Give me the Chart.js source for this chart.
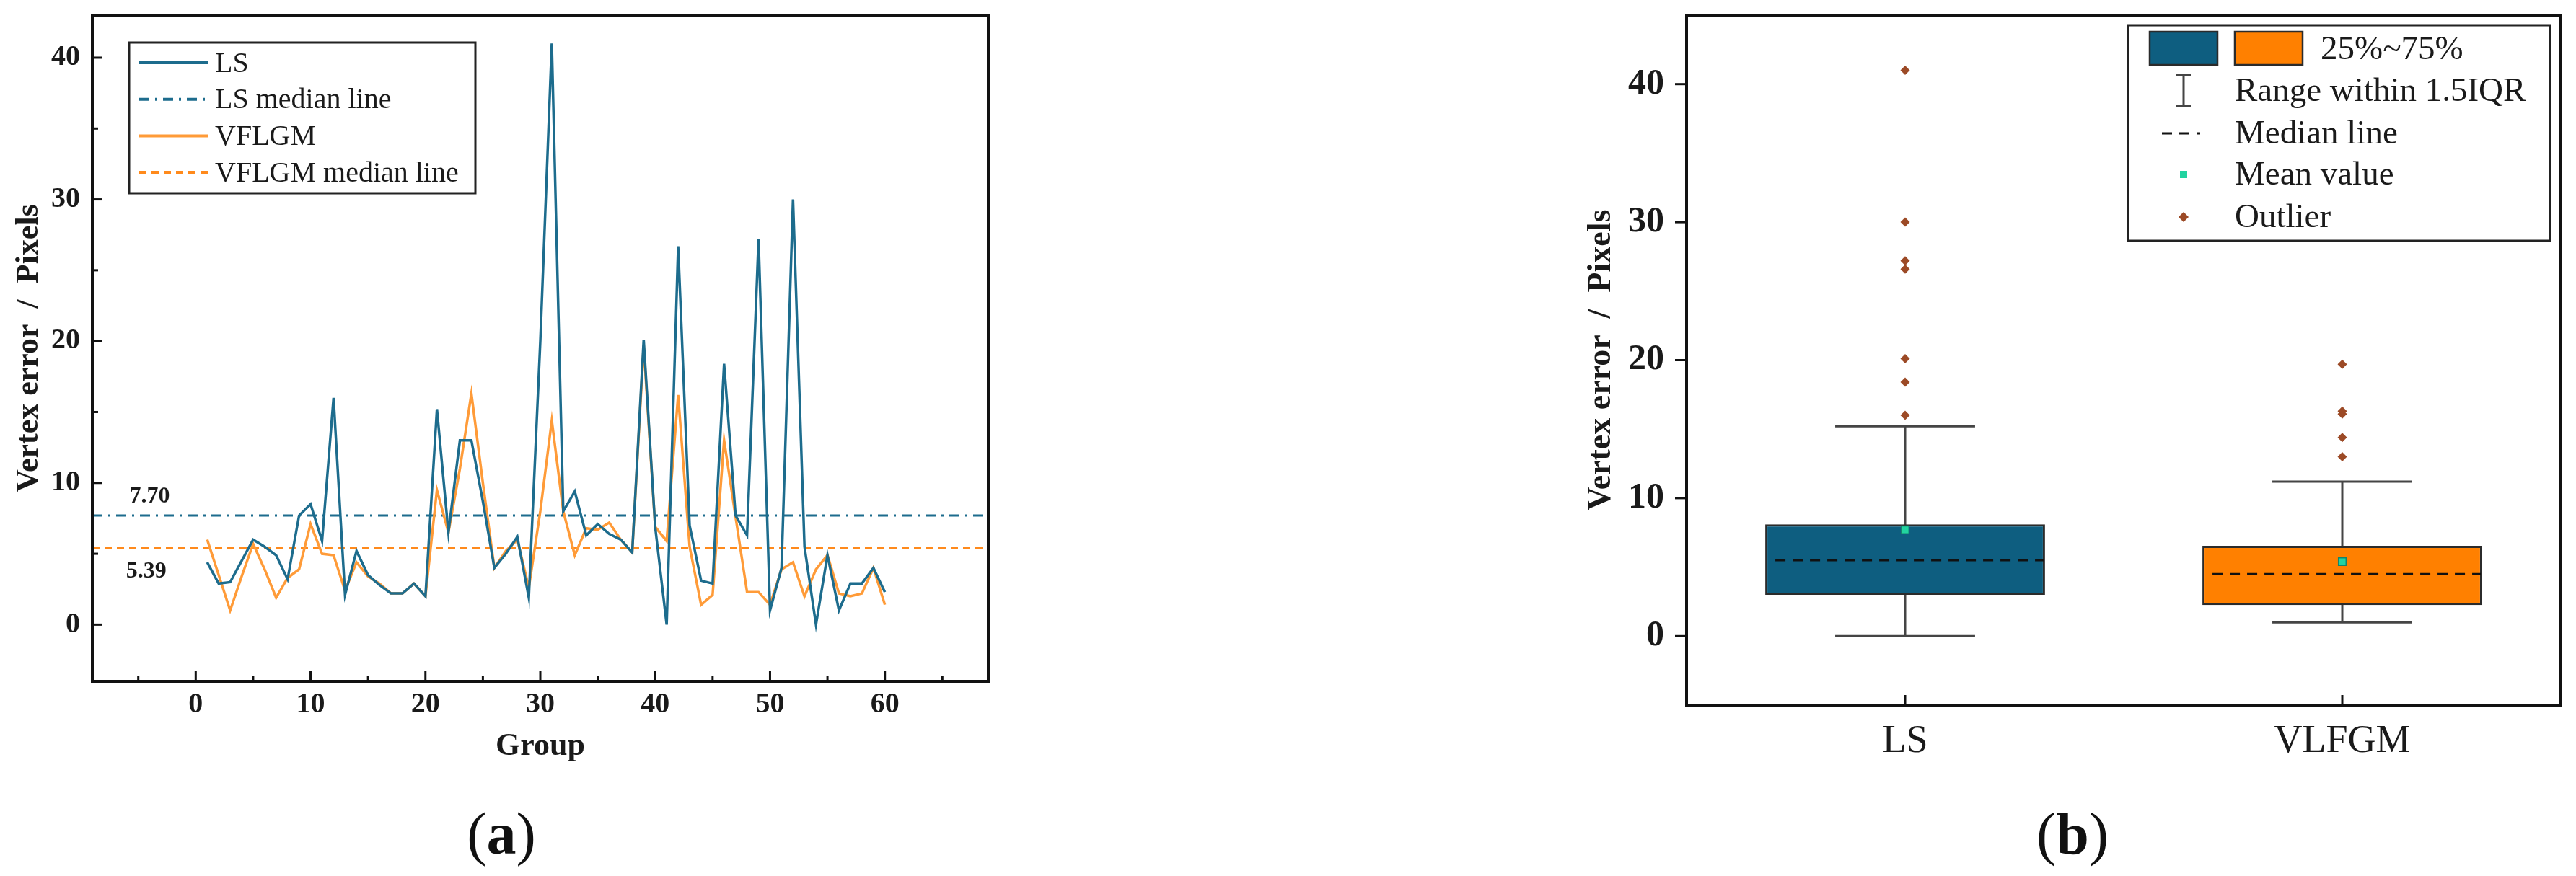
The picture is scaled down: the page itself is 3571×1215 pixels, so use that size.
<!DOCTYPE html>
<html>
<head>
<meta charset="utf-8">
<script src="https://cdn.jsdelivr.net/npm/chart.js@4.4.1/dist/chart.umd.min.js"></script>
<style>
  body { margin: 0; background: #fff; width: 3571px; height: 1215px; position: relative; overflow: hidden; font-family: 'Liberation Serif', 'Times New Roman', serif; }
  #caixaA { position: absolute; left: 0; top: 0; width: 1400px; height: 1080px; }
  #caixaB { position: absolute; left: 2150px; top: 0; width: 1421px; height: 1080px; }
  .rotulo { position: absolute; top: 1116px; font-size: 82px; line-height: 1; color: #111; transform: translateX(-50%); }
</style>
</head>
<body>
<div id="caixaA"><canvas id="graficoA"></canvas></div>
<div id="caixaB"><canvas id="graficoB"></canvas></div>
<div class="rotulo" style="left:695px">(<b>a</b>)</div>
<div class="rotulo" style="left:2873px">(<b>b</b>)</div>
<script>
// (a) erro por grupo
const grupos = [1,2,3,4,5,6,7,8,9,10,11,12,13,14,15,16,17,18,19,20,21,22,23,24,25,26,27,28,29,30,
  31,32,33,34,35,36,37,38,39,40,41,42,43,44,45,46,47,48,49,50,51,52,53,54,55,56,57,58,59,60];
const errosLS = [4.4,2.9,3.0,4.5,6.0,5.5,4.9,3.2,7.7,8.5, 5.9,16.0,2.1,5.2,3.5,2.8,2.2,2.2,2.9,2.0,
  15.2,6.5,13.0,13.0,8.7,4.0,5.0,6.2,1.9,20.0, 41.0,8.0,9.4,6.3,7.1,6.4,6.0,5.1,20.1,6.9,
  0.0,26.7,7.0,3.1,2.9,18.4,7.7,6.3,27.2,1.0, 4.0,30.0,5.5,0.0,4.9,1.0,2.9,2.9,4.0,2.3];
const errosVFLGM = [6.0,3.5,1.0,3.4,5.7,3.9,1.9,3.3,3.9,7.1, 5.0,4.9,2.4,4.4,3.4,2.9,2.2,2.2,2.9,2.0,
  9.5,6.5,11.0,16.3,10.0,4.0,5.2,6.0,2.6,8.0, 14.4,8.0,4.9,6.8,6.7,7.2,6.0,5.1,19.7,6.9,
  5.9,16.2,5.5,1.4,2.1,13.0,7.6,2.3,2.3,1.4, 3.9,4.4,2.0,3.9,4.9,2.2,2.0,2.2,4.0,1.4];
const medianaLS = 7.70;
const medianaVFLGM = 5.39;
const ticksGrupo = [0,10,20,30,40,50,60];
const ticksGrupoMenor = [-5,5,15,25,35,45,55,65];
const ticksErroA = [0,10,20,30,40];
const ticksErroAMenor = [5,15,25,35];
const limitesGrupo = [-9, 69];

// (b) box plot
const metodos = ['LS', 'VLFGM'];
const quartil1 = [3.0, 2.25];
const quartil3 = [8.1, 6.55];
const medianas = [5.5, 4.5];
const medias = [7.7, 5.4];
const minimos = [0.0, 1.0];
const maximos = [15.2, 11.2];
const outliersLS = [16.0, 18.4, 20.1, 26.6, 27.2, 30.0, 41.0];
const outliersVLFGM = [13.0, 14.4, 16.1, 16.3, 19.7];
const ticksErroB = [0,10,20,30,40];

const corLS = '#1d6c8d';
const corVFLGM = '#ff9b38';
const corVFLGMTracejada = '#ff8a1c';
const coresCaixa = ['#0e5e80', '#ff8000'];
const corTexto = '#1a1a1a';
const fonte = "'Liberation Serif', 'Times New Roman', serif";

Chart.defaults.font.family = fonte;
Chart.defaults.color = corTexto;

function pontos(valores) {
  return grupos.map((g, i) => ({ x: g, y: valores[i] }));
}

function linhaHorizontal(valor) {
  return limitesGrupo.map(x => ({ x: x, y: valor }));
}

function traco(ctx, x1, y1, x2, y2) {
  ctx.beginPath();
  ctx.moveTo(x1, y1);
  ctx.lineTo(x2, y2);
  ctx.stroke();
}

// tira o espaço extra que o chart.js reserva para o rótulo da ponta
function semPadding(s) {
  s.paddingTop = 0;
  s.paddingBottom = 0;
  s.paddingLeft = 0;
  s.paddingRight = 0;
}

// moldura, ticks para dentro, rotulos das medianas e legenda
const extrasA = {
  id: 'extrasA',
  afterDraw(chart) {
    const { ctx, chartArea: a } = chart;
    const sx = chart.scales.x, sy = chart.scales.y;
    ctx.save();
    ctx.strokeStyle = '#111';
    ctx.lineWidth = 3;
    ticksGrupo.forEach(v => { const p = sx.getPixelForValue(v); traco(ctx, p, a.bottom, p, a.bottom - 14); });
    ticksGrupoMenor.forEach(v => { const p = sx.getPixelForValue(v); traco(ctx, p, a.bottom, p, a.bottom - 8); });
    ticksErroA.forEach(v => { const p = sy.getPixelForValue(v); traco(ctx, a.left, p, a.left + 14, p); });
    ticksErroAMenor.forEach(v => { const p = sy.getPixelForValue(v); traco(ctx, a.left, p, a.left + 8, p); });
    ctx.lineWidth = 4;
    ctx.strokeRect(a.left, a.top, a.right - a.left, a.bottom - a.top);

    ctx.fillStyle = corTexto;
    ctx.font = 'bold 32px ' + fonte;
    ctx.textAlign = 'center';
    ctx.textBaseline = 'middle';
    ctx.fillText(medianaLS.toFixed(2), sx.getPixelForValue(-4), sy.getPixelForValue(medianaLS) - 26);
    ctx.fillText(medianaVFLGM.toFixed(2), sx.getPixelForValue(-4.3), sy.getPixelForValue(medianaVFLGM) + 32);

    // legenda
    ctx.lineWidth = 3;
    ctx.strokeStyle = '#222';
    ctx.strokeRect(179, 59, 480, 209);
    const ordem = [0, 2, 1, 3];
    ctx.font = '40px ' + fonte;
    ctx.textAlign = 'left';
    ordem.forEach((d, k) => {
      const ds = chart.data.datasets[d];
      const y = 87 + k * 50.7;
      ctx.strokeStyle = ds.borderColor;
      ctx.lineWidth = 4;
      ctx.setLineDash(ds.borderDash || []);
      traco(ctx, 193, y, 288, y);
      ctx.setLineDash([]);
      ctx.fillText(ds.label, 298, y + 2);
    });
    ctx.restore();
  }
};

const graficoA = new Chart(document.getElementById('graficoA'), {
  type: 'line',
  data: {
    datasets: [
      { label: 'LS', data: pontos(errosLS), borderColor: corLS, borderWidth: 3.5, pointRadius: 0 },
      { label: 'VFLGM', data: pontos(errosVFLGM), borderColor: corVFLGM, borderWidth: 3.5, pointRadius: 0 },
      { label: 'LS median line', data: linhaHorizontal(medianaLS), borderColor: corLS, borderWidth: 3, borderDash: [14, 8, 3, 8], pointRadius: 0 },
      { label: 'VFLGM median line', data: linhaHorizontal(medianaVFLGM), borderColor: corVFLGMTracejada, borderWidth: 3, borderDash: [10, 7], pointRadius: 0 }
    ]
  },
  options: {
    responsive: true,
    maintainAspectRatio: false,
    animation: false,
    devicePixelRatio: 1,
    layout: { padding: { left: 0, top: 21, right: 30, bottom: 0 } },
    plugins: { legend: { display: false }, tooltip: { enabled: false } },
    scales: {
      x: {
        type: 'linear', min: limitesGrupo[0], max: limitesGrupo[1],
        grid: { display: false, drawTicks: false }, border: { display: false },
        afterBuildTicks: s => { s.ticks = ticksGrupo.map(v => ({ value: v })); },
        afterFit: s => { s.height = 135; semPadding(s); },
        ticks: { font: { size: 40, weight: 'bold' }, padding: 9, maxRotation: 0, autoSkip: false },
        title: { display: true, text: 'Group', font: { size: 44, weight: 'bold' }, padding: { top: 0, bottom: 18 } }
      },
      y: {
        min: -4, max: 43,
        grid: { display: false, drawTicks: false }, border: { display: false },
        afterBuildTicks: s => { s.ticks = ticksErroA.map(v => ({ value: v })); },
        afterFit: s => { s.width = 128; semPadding(s); },
        ticks: { font: { size: 40, weight: 'bold' }, padding: 17 },
        title: { display: true, text: 'Vertex error  /  Pixels', font: { size: 44, weight: 'bold' }, padding: { top: 14, bottom: 0 } }
      }
    }
  },
  plugins: [extrasA]
});

// bigodes, medianas, moldura e legenda do box plot
const extrasB = {
  id: 'extrasB',
  beforeDatasetsDraw(chart) {
    const { ctx } = chart;
    const sx = chart.scales.x, sy = chart.scales.y;
    const barras = chart.getDatasetMeta(0).data;
    ctx.save();
    ctx.strokeStyle = '#454545';
    ctx.lineWidth = 3;
    metodos.forEach((m, i) => {
      const cx = sx.getPixelForValue(i);
      const meia = barras[i].width / 4;
      const yMin = sy.getPixelForValue(minimos[i]), yMax = sy.getPixelForValue(maximos[i]);
      traco(ctx, cx, yMin, cx, yMax);
      traco(ctx, cx - meia, yMin, cx + meia, yMin);
      traco(ctx, cx - meia, yMax, cx + meia, yMax);
    });
    ctx.restore();
  },
  afterDatasetsDraw(chart) {
    const { ctx } = chart;
    const sy = chart.scales.y;
    const barras = chart.getDatasetMeta(0).data;
    ctx.save();
    ctx.strokeStyle = '#111';
    ctx.lineWidth = 3;
    ctx.setLineDash([14, 10]);
    metodos.forEach((m, i) => {
      const b = barras[i];
      const y = sy.getPixelForValue(medianas[i]);
      traco(ctx, b.x - b.width / 2 + 14, y, b.x + b.width / 2 - 2, y);
    });
    ctx.restore();
  },
  afterDraw(chart) {
    const { ctx, chartArea: a } = chart;
    const sx = chart.scales.x, sy = chart.scales.y;
    ctx.save();
    ctx.strokeStyle = '#111';
    ctx.lineWidth = 3;
    metodos.forEach((m, i) => { const p = sx.getPixelForValue(i); traco(ctx, p, a.bottom, p, a.bottom - 14); });
    ticksErroB.forEach(v => { const p = sy.getPixelForValue(v); traco(ctx, a.left, p, a.left - 16, p); });
    ctx.lineWidth = 4;
    ctx.strokeRect(a.left, a.top, a.right - a.left, a.bottom - a.top);

    // legenda
    ctx.lineWidth = 3;
    ctx.strokeStyle = '#222';
    ctx.strokeRect(800, 35, 585, 299);
    ctx.lineWidth = 2.5;
    ctx.strokeStyle = '#2b2b2b';
    ctx.fillStyle = coresCaixa[0];
    ctx.fillRect(830, 44, 94, 46); ctx.strokeRect(830, 44, 94, 46);
    ctx.fillStyle = coresCaixa[1];
    ctx.fillRect(948, 44, 94, 46); ctx.strokeRect(948, 44, 94, 46);

    ctx.strokeStyle = '#454545';
    ctx.lineWidth = 3;
    traco(ctx, 877, 104, 877, 147);
    traco(ctx, 867, 104, 887, 104);
    traco(ctx, 867, 147, 887, 147);

    ctx.strokeStyle = '#111';
    ctx.setLineDash([14, 10]);
    traco(ctx, 847, 185, 900, 185);
    ctx.setLineDash([]);

    const media = chart.data.datasets[1], outlier = chart.data.datasets[2];
    ctx.fillStyle = media.pointBackgroundColor;
    ctx.fillRect(872, 237, 10, 10);
    ctx.fillStyle = outlier.pointBackgroundColor;
    ctx.beginPath();
    ctx.moveTo(877, 294); ctx.lineTo(884, 301); ctx.lineTo(877, 308); ctx.lineTo(870, 301);
    ctx.closePath();
    ctx.fill();

    ctx.fillStyle = corTexto;
    ctx.font = '47px ' + fonte;
    ctx.textBaseline = 'middle';
    ctx.textAlign = 'left';
    ctx.fillText('25%~75%', 1067, 70);
    ctx.fillText('Range within 1.5IQR', 948, 128);
    ctx.fillText('Median line', 948, 187);
    ctx.fillText(media.label, 948, 244);
    ctx.fillText(outlier.label, 948, 303);
    ctx.restore();
  }
};

const graficoB = new Chart(document.getElementById('graficoB'), {
  type: 'bar',
  data: {
    labels: metodos,
    datasets: [
      {
        type: 'bar', label: '25%~75%', order: 3,
        data: metodos.map((m, i) => [quartil1[i], quartil3[i]]),
        backgroundColor: coresCaixa, borderColor: '#2b2b2b', borderWidth: 3, borderSkipped: false,
        barPercentage: 0.64, categoryPercentage: 1
      },
      {
        type: 'line', label: 'Mean value', order: 1, showLine: false,
        data: metodos.map((m, i) => ({ x: m, y: medias[i] })),
        pointStyle: 'rect', pointRadius: 7.5, pointBackgroundColor: '#22d3a0', pointBorderColor: '#14836a', pointBorderWidth: 1.5
      },
      {
        type: 'line', label: 'Outlier', order: 2, showLine: false,
        data: outliersLS.map(y => ({ x: 'LS', y: y })).concat(outliersVLFGM.map(y => ({ x: 'VLFGM', y: y }))),
        pointStyle: 'rectRot', pointRadius: 6.5, pointBackgroundColor: '#9c4a26', pointBorderWidth: 0
      }
    ]
  },
  options: {
    responsive: true,
    maintainAspectRatio: false,
    animation: false,
    devicePixelRatio: 1,
    layout: { padding: { left: 0, top: 21, right: 21, bottom: 0 } },
    plugins: { legend: { display: false }, tooltip: { enabled: false } },
    scales: {
      x: {
        type: 'category', offset: true,
        grid: { display: false, drawTicks: false }, border: { display: false },
        afterFit: s => { s.height = 102; semPadding(s); },
        ticks: { font: { size: 54 }, padding: 18 }
      },
      y: {
        min: -5, max: 45,
        grid: { display: false, drawTicks: false }, border: { display: false },
        afterBuildTicks: s => { s.ticks = ticksErroB.map(v => ({ value: v })); },
        afterFit: s => { s.width = 188; semPadding(s); },
        ticks: { font: { size: 50, weight: 'bold' }, padding: 31 },
        title: { display: true, text: 'Vertex error  /  Pixels', font: { size: 46, weight: 'bold' }, padding: { top: 43, bottom: 0 } }
      }
    }
  },
  plugins: [extrasB]
});
</script>
</body>
</html>
